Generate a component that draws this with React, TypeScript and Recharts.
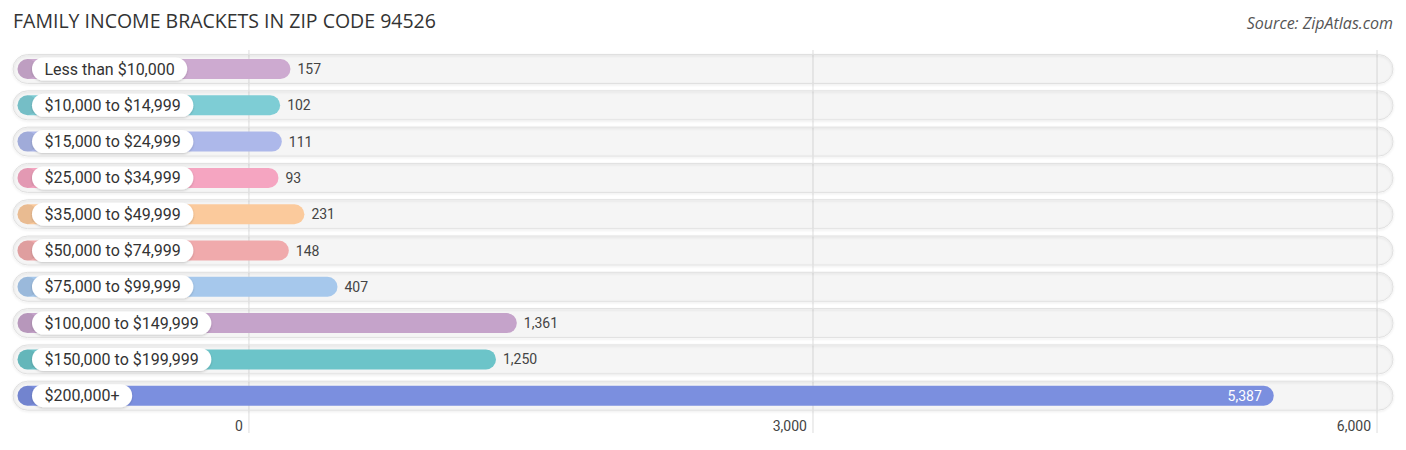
import React from "react";
import { BarChart, Bar, XAxis, YAxis, CartesianGrid, Cell } from "recharts";

const categories = [
  "Less than $10,000",
  "$10,000 to $14,999",
  "$15,000 to $24,999",
  "$25,000 to $34,999",
  "$35,000 to $49,999",
  "$50,000 to $74,999",
  "$75,000 to $99,999",
  "$100,000 to $149,999",
  "$150,000 to $199,999",
  "$200,000+",
];
const values = [157, 102, 111, 93, 231, 148, 407, 1361, 1250, 5387];
const colors = [
  "#cdaad0",
  "#7ecdd5",
  "#adb8ea",
  "#f5a5c1",
  "#fbca9c",
  "#f0aaac",
  "#a6c8ec",
  "#c5a3ca",
  "#6cc4c9",
  "#7b8fdf",
];
const tickValues = [0, 3000, 6000];

const DOMAIN_MIN = -1255;
const DOMAIN_MAX = 6085;

const data = categories.map((name, i) => ({ name, value: values[i] }));

let measureCtx: CanvasRenderingContext2D | null = null;
function textWidth(s: string, font: string) {
  if (!measureCtx) measureCtx = document.createElement("canvas").getContext("2d");
  if (!measureCtx) return s.length * 8;
  measureCtx.font = font;
  return measureCtx.measureText(s).width;
}

const fmt = (v: number) => v.toLocaleString("en-US");

// grid only at the ticks, not at the plot edges
function gridX({ xAxis, offset }: any) {
  if (xAxis && typeof xAxis.scale === "function") return tickValues.map((v) => xAxis.scale(v));
  return tickValues.map(
    (v) => offset.left + ((v - DOMAIN_MIN) / (DOMAIN_MAX - DOMAIN_MIN)) * offset.width
  );
}

function PillBackground(props: any) {
  const { x, y, width, height } = props;
  const h = height + 9;
  return (
    <rect
      x={x}
      y={y - 4.5}
      width={width}
      height={h}
      rx={h / 2}
      fill="rgba(0,0,0,0.035)"
      stroke="#e0e0e0"
      strokeWidth={1}
      filter="url(#pillShadow)"
    />
  );
}

function BarShape(props: any) {
  const { x, y, width, height, index, payload } = props;
  const color = colors[index];
  const cy = y + height / 2;
  const x0 = x + 4.5;
  const x1 = x + width + 12;
  const labelW = textWidth(payload.name, "16px Roboto") + 25;
  const inside = payload.value > 4000;
  return (
    <g>
      <rect x={x0} y={y} width={x1 - x0} height={height} rx={height / 2} fill={color} />
      <circle cx={x0 + height / 2} cy={cy} r={height / 2} fill="rgba(0,0,0,0.07)" />
      <rect
        x={x0 + 14.5}
        y={cy - 11.5}
        width={labelW}
        height={23}
        rx={11.5}
        fill="#ffffff"
        filter="url(#labelShadow)"
      />
      <text
        x={x0 + 27}
        y={cy}
        dominantBaseline="central"
        fontFamily="Roboto"
        fontSize={16}
        fill="#333333"
      >
        {payload.name}
      </text>
      <text
        x={inside ? x1 - 12 : x1 + 7}
        y={cy}
        dominantBaseline="central"
        textAnchor={inside ? "end" : "start"}
        fontFamily="Roboto"
        fontSize={14}
        fill={inside ? "#ffffff" : "#444444"}
      >
        {fmt(payload.value)}
      </text>
    </g>
  );
}

function AxisTick(props: any) {
  const { x, y, payload } = props;
  return (
    <text x={x - 6} y={y - 10} textAnchor="end" fontFamily="Roboto" fontSize={14} fill="#444444">
      {fmt(payload.value)}
    </text>
  );
}

export default function App() {
  return (
    <div style={{ position: "absolute", left: 0, top: 0, width: 1406, height: 450, background: "#fff" }}>
      <div
        style={{
          position: "absolute",
          left: 13,
          top: 7,
          fontFamily: "Open Sans",
          fontSize: 19.5,
          color: "#333",
          whiteSpace: "nowrap",
        }}
      >
        FAMILY INCOME BRACKETS IN ZIP CODE 94526
      </div>
      <div
        style={{
          position: "absolute",
          right: 13,
          top: 12,
          fontFamily: "Open Sans",
          fontStyle: "italic",
          fontSize: 16,
          color: "#555",
          whiteSpace: "nowrap",
        }}
      >
        Source: ZipAtlas.com
      </div>
      <svg width={0} height={0} style={{ position: "absolute" }}>
        <defs>
          <filter id="pillShadow" x="-5%" y="-50%" width="110%" height="200%">
            <feDropShadow dx="0" dy="1" stdDeviation="1" floodColor="#000" floodOpacity="0.12" />
          </filter>
          <filter id="labelShadow" x="-20%" y="-50%" width="140%" height="200%">
            <feDropShadow dx="0" dy="1" stdDeviation="1" floodColor="#000" floodOpacity="0.2" />
          </filter>
        </defs>
      </svg>
      <BarChart
        width={1406}
        height={450}
        data={data}
        layout="vertical"
        margin={{ top: 50, right: 13, bottom: 0, left: 13 }}
        barSize={20}
        style={{ position: "absolute", left: 0, top: 0 }}
      >
        <CartesianGrid horizontal={false} stroke="#dddddd" verticalCoordinatesGenerator={gridX} />
        <XAxis
          type="number"
          domain={[DOMAIN_MIN, DOMAIN_MAX]}
          ticks={tickValues}
          axisLine={false}
          tickLine={false}
          height={17}
          tick={<AxisTick />}
        />
        <YAxis type="category" dataKey="name" hide padding={{ top: 1, bottom: 19 }} />
        <Bar
          dataKey={(d: any) => [DOMAIN_MIN, d.value]}
          isAnimationActive={false}
          background={<PillBackground />}
          shape={<BarShape />}
        >
          {data.map((d, i) => (
            <Cell key={d.name} fill={colors[i]} />
          ))}
        </Bar>
      </BarChart>
    </div>
  );
}
